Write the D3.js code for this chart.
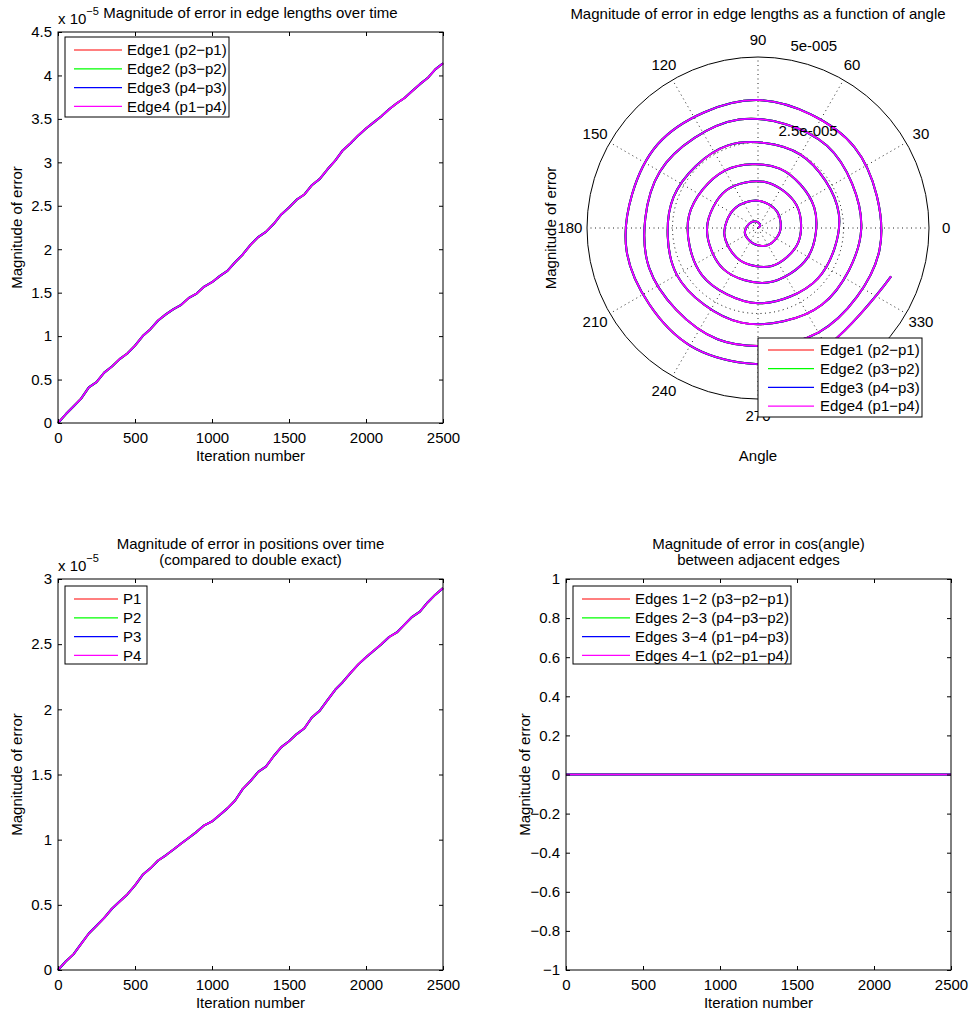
<!DOCTYPE html>
<html><head><meta charset="utf-8">
<script src="https://cdn.jsdelivr.net/npm/d3@7"></script>
<style>
body{margin:0;background:#fff}
svg text{font-family:"Liberation Sans",Arial,Helvetica,sans-serif;font-size:15px;fill:#000}
</style></head>
<body><svg id="chart" width="969" height="1015"></svg>
<script>
// ---------------- data ----------------
const iterations = [0,50,100,150,200,250,300,350,400,450,500,550,600,650,700,750,800,850,900,950,
  1000,1050,1100,1150,1200,1250,1300,1350,1400,1450,1500,1550,1600,1650,1700,1750,1800,1850,1900,1950,
  2000,2050,2100,2150,2200,2250,2300,2350,2400,2450,2500];
// magnitude of error in edge lengths (x 1e-5)
const edgeError = [0,0.10,0.19,0.28,0.41,0.47,0.58,0.65,0.735,0.80,0.89,1.00,1.08,1.18,1.25,1.31,1.36,1.44,1.49,1.57,
  1.62,1.69,1.75,1.85,1.94,2.05,2.14,2.20,2.29,2.40,2.48,2.57,2.63,2.74,2.81,2.92,3.02,3.14,3.22,3.31,
  3.39,3.46,3.53,3.61,3.68,3.74,3.82,3.90,3.97,4.07,4.14];
// magnitude of error in positions (x 1e-5)
const positionError = [0,0.065,0.12,0.20,0.28,0.34,0.40,0.47,0.525,0.58,0.65,0.73,0.78,0.84,0.88,0.925,0.97,1.015,1.06,1.11,
  1.14,1.19,1.24,1.30,1.39,1.45,1.52,1.56,1.64,1.71,1.755,1.81,1.855,1.94,1.99,2.07,2.15,2.21,2.28,2.345,
  2.40,2.45,2.50,2.555,2.59,2.65,2.71,2.75,2.82,2.88,2.93];
// magnitude of error in cos(angle)
const cosIterations = [0,2500];
const cosError = [0,0];

const edgeNames = ["Edge1 (p2\u2212p1)","Edge2 (p3\u2212p2)","Edge3 (p4\u2212p3)","Edge4 (p1\u2212p4)"];
const pointNames = ["P1","P2","P3","P4"];
const angleNames = ["Edges 1\u22122 (p3\u2212p2\u2212p1)","Edges 2\u22123 (p4\u2212p3\u2212p2)","Edges 3\u22124 (p1\u2212p4\u2212p3)","Edges 4\u22121 (p2\u2212p1\u2212p4)"];
const seriesColors = ["#ff0000","#00ff00","#0000ff","#ff00ff"];

const xTicks = [0,500,1000,1500,2000,2500];
const yTicksEdge = [0,0.5,1,1.5,2,2.5,3,3.5,4,4.5];
const yTicksPos = [0,0.5,1,1.5,2,2.5,3];
const yTicksCos = [-1,-0.8,-0.6,-0.4,-0.2,0,0.2,0.4,0.6,0.8,1];
const angleTicks = [0,30,60,90,120,150,180,210,240,270,300,330];
const hiddenAngleLabels = [300]; // fully covered by the legend in the reference
const ringTicks = [2.5,5];
const ringLabels = ["2.5e-005","5e-005"];

// ---------------- drawing ----------------
const svg = d3.select("#chart");
const fmt = d => (d < 0 ? "\u2212" : "") + Math.abs(d);

function legend(g, box, names, rowY, rowDy, lx0, lx1, tx) {
  const lg = g.append("g");
  lg.append("rect").attr("x", box[0]).attr("y", box[1]).attr("width", box[2]).attr("height", box[3])
    .attr("fill", "#fff").attr("stroke", "#000").attr("stroke-width", 1);
  names.forEach((n, i) => {
    const y = rowY + i * rowDy;
    lg.append("line").attr("x1", lx0).attr("x2", lx1).attr("y1", y).attr("y2", y)
      .attr("stroke", seriesColors[i]).attr("stroke-width", 1.2);
    lg.append("text").attr("x", tx).attr("y", y).attr("dy", "0.35em").text(n);
  });
}

function cartesian(o) {
  const g = svg.append("g");
  const x = d3.scaleLinear().domain([0, 2500]).range([o.left, o.right]);
  const y = d3.scaleLinear().domain(o.yDomain).range([o.bottom, o.top]);
  const line = d3.line().x((d, i) => x(o.xs[i])).y(d => y(d));
  seriesColors.forEach((c, i) => {
    g.append("path").datum(o.ys).attr("d", line).attr("fill", "none")
      .attr("stroke", c).attr("stroke-width", i === 3 ? 1.6 : 2.0).attr("stroke-linejoin", "round");
  });
  const style = a => a.attr("font-size", 15).attr("font-family", "Liberation Sans, Arial, sans-serif");
  style(g.append("g").attr("transform", `translate(0,${o.bottom})`)
    .call(d3.axisBottom(x).tickValues(xTicks).tickSizeInner(-4).tickSizeOuter(0).tickPadding(9).tickFormat(fmt)));
  style(g.append("g").attr("transform", `translate(0,${o.top})`)
    .call(d3.axisTop(x).tickValues(xTicks).tickSizeInner(-4).tickSizeOuter(0).tickFormat("")));
  style(g.append("g").attr("transform", `translate(${o.left},0)`)
    .call(d3.axisLeft(y).tickValues(o.yTicks).tickSizeInner(-4).tickSizeOuter(0).tickPadding(6).tickFormat(fmt)));
  style(g.append("g").attr("transform", `translate(${o.right},0)`)
    .call(d3.axisRight(y).tickValues(o.yTicks).tickSizeInner(-4).tickSizeOuter(0).tickFormat("")));
  g.selectAll(".domain").remove();
  g.selectAll(".tick line").attr("stroke", "#000");
  g.append("rect").attr("x", o.left).attr("y", o.top).attr("width", o.right - o.left).attr("height", o.bottom - o.top)
    .attr("fill", "none").attr("stroke", "#000").attr("stroke-width", 1);
  const cxm = (o.left + o.right) / 2;
  o.title.forEach((t, i) => g.append("text").attr("x", cxm).attr("y", o.titleY + i * 16).attr("text-anchor", "middle").text(t));
  g.append("text").attr("x", cxm).attr("y", o.bottom + 38).attr("text-anchor", "middle").text("Iteration number");
  g.append("text").attr("transform", `translate(${o.left - 36},${(o.top + o.bottom) / 2}) rotate(-90)`)
    .attr("text-anchor", "middle").text("Magnitude of error");
  if (o.mult) {
    const t = g.append("text").attr("x", o.left).attr("y", o.top - 8);
    t.append("tspan").text("x 10");
    t.append("tspan").attr("dy", -9).attr("font-size", 11).text("\u22125");
  }
  legend(g, o.legBox, o.names, o.legBox[1] + 13, 18.8, o.legBox[0] + 9, o.legBox[0] + o.legLine, o.legBox[0] + o.legLine + 5);
}

cartesian({left:58, right:443, top:32, bottom:423, yDomain:[0,4.5], yTicks:yTicksEdge, xs:iterations, ys:edgeError,
  title:["Magnitude of error in edge lengths over time"], titleY:18, mult:true,
  names:edgeNames, legBox:[65,37,164,80], legLine:57});
cartesian({left:58, right:443, top:579, bottom:970, yDomain:[0,3], yTicks:yTicksPos, xs:iterations, ys:positionError,
  title:["Magnitude of error in positions over time","(compared to double exact)"], titleY:549, mult:true,
  names:pointNames, legBox:[65,586,82,78], legLine:53});
cartesian({left:566, right:951, top:579, bottom:970, yDomain:[-1,1], yTicks:yTicksCos, xs:cosIterations, ys:cosError,
  title:["Magnitude of error in cos(angle)","between adjacent edges"], titleY:549, mult:false,
  names:angleNames, legBox:[573,586,218,78], legLine:57});

// ---------------- polar ----------------
const pcx = 758, pcy = 228;
const rScale = d3.scaleLinear().domain([0, 5]).range([0, 171]);
const aRad = deg => Math.PI / 2 - deg * Math.PI / 180; // d3 radial angle from math angle (deg)
const pg = svg.append("g").attr("transform", `translate(${pcx},${pcy})`);
pg.append("circle").attr("r", rScale(5)).attr("fill", "#fff");
angleTicks.forEach(a => {
  const t = aRad(a), r = rScale(5);
  pg.append("line").attr("x1", 0).attr("y1", 0).attr("x2", r * Math.sin(t)).attr("y2", -r * Math.cos(t))
    .attr("stroke", "#222").attr("stroke-width", 1).attr("stroke-dasharray", "1,3.5");
});
ringTicks.forEach((rv, i) => {
  pg.append("circle").attr("r", rScale(rv)).attr("fill", "none").attr("stroke", "#000")
    .attr("stroke-width", 1).attr("stroke-dasharray", i === ringTicks.length - 1 ? null : "1,3.5");
});
const spiral = d3.lineRadial()
  .angle((d, i) => aRad(iterations[i]))
  .radius(d => rScale(d))
  .curve(d3.curveCatmullRom.alpha(0.5));
seriesColors.forEach((c, i) => {
  pg.append("path").datum(edgeError).attr("d", spiral).attr("fill", "none")
    .attr("stroke", c).attr("stroke-width", i === 3 ? 1.6 : 2.0);
});
angleTicks.filter(a => !hiddenAngleLabels.includes(a)).forEach(a => {
  const t = aRad(a), r = rScale(5) * 1.1;
  pg.append("text").attr("x", r * Math.sin(t)).attr("y", -r * Math.cos(t)).attr("dy", "0.35em")
    .attr("text-anchor", "middle").text(a);
});
ringTicks.forEach((rv, i) => {
  const t = aRad(82), r = rScale(rv + 2.5 / 20);
  pg.append("text").attr("x", r * Math.sin(t) + 8).attr("y", -r * Math.cos(t) - 3).text(ringLabels[i]);
});
svg.append("text").attr("x", pcx).attr("y", 19).attr("text-anchor", "middle")
  .text("Magnitude of error in edge lengths as a function of angle");
svg.append("text").attr("x", pcx).attr("y", 461).attr("text-anchor", "middle").text("Angle");
svg.append("text").attr("transform", `translate(556,${pcy}) rotate(-90)`).attr("text-anchor", "middle").text("Magnitude of error");
legend(svg, [758,338,164,79], edgeNames, 350, 18.7, 768, 814, 820);
</script></body></html>
